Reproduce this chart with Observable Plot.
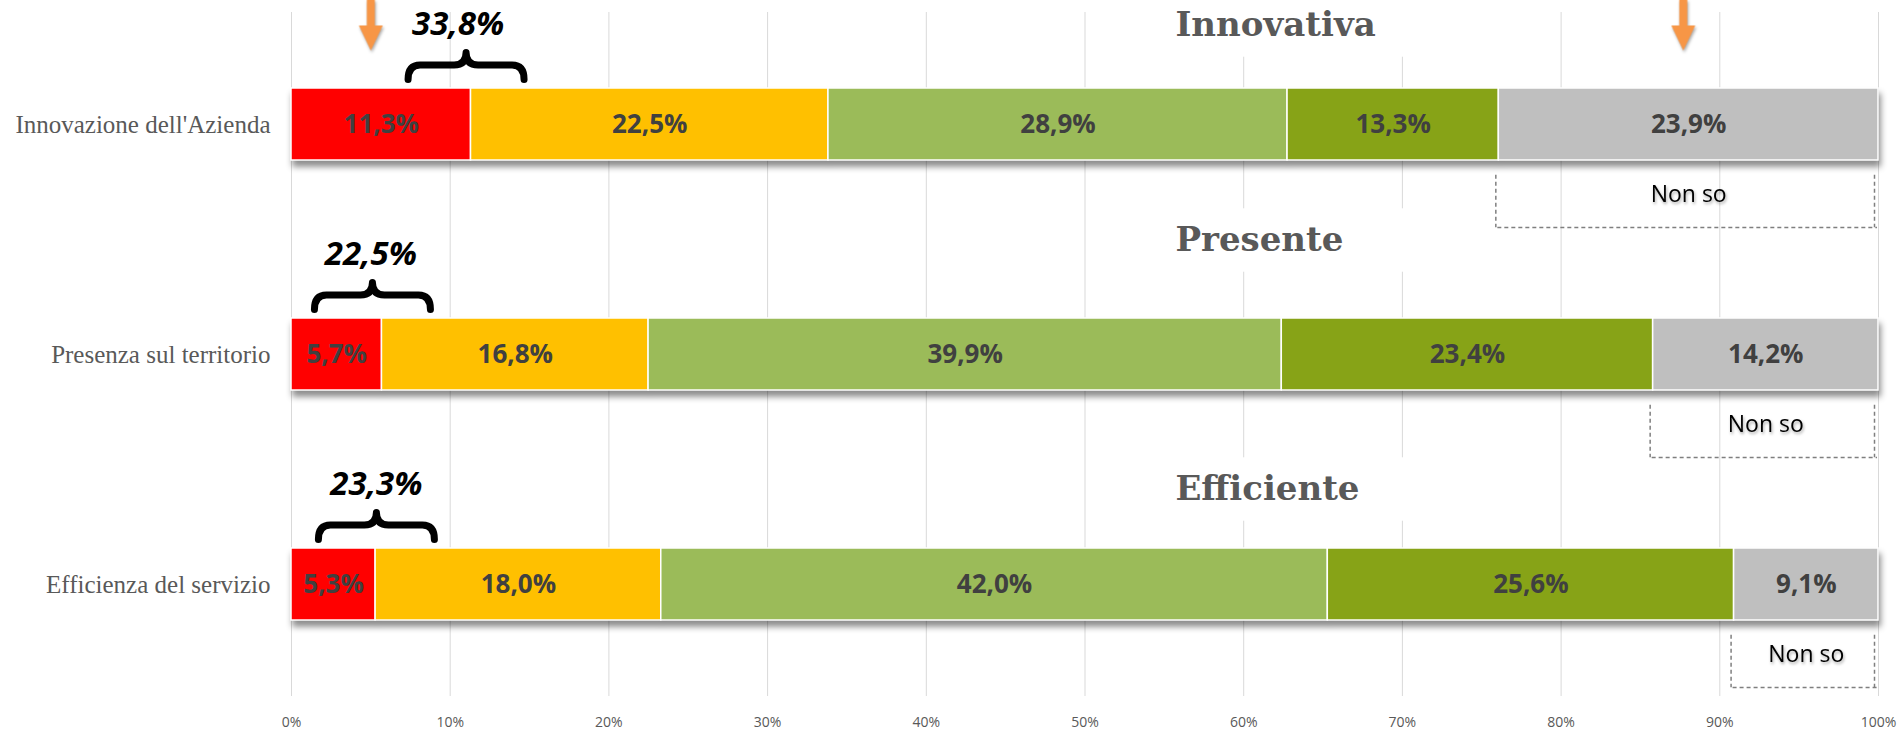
<!DOCTYPE html>
<html><head><meta charset="utf-8">
<script src="https://cdn.jsdelivr.net/npm/d3@7"></script>
<script src="https://cdn.jsdelivr.net/npm/@observablehq/plot@0.6"></script>
<style>
html,body{margin:0;padding:0;background:#fff;}
#chart svg{display:block}
</style>
</head><body><div id="chart"></div>
<script>
// ---------------- data ----------------
const items = ["Innovazione dell'Azienda", "Presenza sul territorio", "Efficienza del servizio"];
const responses = ["Per niente", "Poco", "Abbastanza", "Molto", "Non so"];
const perNiente  = [11.3, 5.7, 5.3];
const poco       = [22.5, 16.8, 18.0];
const abbastanza = [28.9, 39.9, 42.0];
const molto      = [13.3, 23.4, 25.6];
const nonSo      = [23.9, 14.2, 9.1];
const titles = ["Innovativa", "Presente", "Efficiente"];
const nonSoLabel = "Non so";
const xTicks = [0, 10, 20, 30, 40, 50, 60, 70, 80, 90, 100];
const colors = ["#FF0000", "#FFC000", "#9BBB59", "#87A317", "#BFBFBF"];

// annotation anchors, in percent of the x axis
const braceX = [11.0, 5.1, 5.35];
const noteX  = [10.5, 5.0, 5.35];
const arrowX = [5.0, 87.7];
const titleX = 55.7;

// ---------------- tables ----------------
const series = [perNiente, poco, abbastanza, molto, nonSo];
const totals = items.map((_, i) => d3.sum(series, s => s[i]));
const rows = [];
items.forEach((item, i) => {
  series.forEach((s, k) => rows.push({item, resp: responses[k], value: s[i], share: s[i] / totals[i] * 100}));
});
const fmt = v => v.toFixed(1).replace(".", ",") + "%";
const nsRows = items.map((item, i) => ({item, start: 100 - nonSo[i] / totals[i] * 100}));
const noteRows = items.map((item, i) => ({item, x: noteX[i], bx: braceX[i], text: fmt(perNiente[i] + poco[i])}));
const titleRows = items.map((item, i) => ({item, title: titles[i]}));

// ---------------- layout constants ----------------
const titleDy = [-99, -114, -95];

const braceSymbol = {draw(ctx, size) {
  const k = Math.sqrt(size / Math.PI) / 10;
  const W = 58 * k, H = 13.5 * k, r = 12 * k, a = -1 * k;
  ctx.moveTo(-W, H);
  ctx.quadraticCurveTo(-W, a, -W + r, a);
  ctx.lineTo(-r, a);
  ctx.quadraticCurveTo(0, a, 0, -H);
  ctx.moveTo(0, -H);
  ctx.quadraticCurveTo(0, a, r, a);
  ctx.lineTo(W - r, a);
  ctx.quadraticCurveTo(W, a, W, H);
}};
const arrowSymbol = {draw(ctx, size) {
  const k = Math.sqrt(size / Math.PI) / 10;
  ctx.moveTo(-4 * k, -26 * k);
  ctx.lineTo(4 * k, -26 * k);
  ctx.lineTo(4 * k, 0);
  ctx.lineTo(12 * k, 0);
  ctx.lineTo(0, 25 * k);
  ctx.lineTo(-12 * k, 0);
  ctx.lineTo(-4 * k, 0);
  ctx.closePath();
}};

const barShadow = "drop-shadow(2px 6px 3px rgba(0,0,0,0.45))";
const softShadow = "drop-shadow(1px 2px 1.5px rgba(0,0,0,0.35))";
const dash = {stroke: "#7F7F7F", strokeWidth: 1.5, strokeDasharray: "4,3"};

const chart = Plot.plot({
  width: 1901,
  height: 729,
  marginLeft: 291,
  marginRight: 23,
  marginTop: 12,
  marginBottom: 33,
  style: {fontFamily: "'Open Sans', sans-serif", background: "white", overflow: "visible"},
  x: {domain: [0, 100]},
  y: {domain: items, paddingInner: 0.689, paddingOuter: 0.331},
  color: {domain: responses, range: colors},
  marks: [
    Plot.gridX(xTicks, {stroke: "#D9D9D9", strokeOpacity: 1, strokeWidth: 1}),
    Plot.barX(rows, {x: "share", y: "item", fill: "resp", stroke: "white", strokeWidth: 1.5, imageFilter: barShadow, ariaDescription: "barshadow"}),
    ...items.map((item, i) => Plot.barX([titleRows[i]], {x1: 54, x2: 75, y: "item", fill: "white", dy: titleDy[i], insetTop: 4.3, insetBottom: 4.3})),
    ...items.map((item, i) => Plot.text([titleRows[i]], {x: titleX, y: "item", text: "title", textAnchor: "start", dy: titleDy[i], fontSize: 34, fontWeight: 700, fontFamily: "'DejaVu Serif', serif", fill: "#595959"})),
    Plot.text(rows, Plot.stackX({x: "share", y: "item", text: d => fmt(d.value), fill: "#404040", fontSize: 26, fontWeight: 700})),
    // "Non so" brackets
    Plot.tickX(nsRows, {x: "start", y: "item", dx: -3, dy: 77, insetTop: 9.8, insetBottom: 9.8, ...dash}),
    Plot.tickX(nsRows, {x: () => 100, y: "item", dx: -4, dy: 77, insetTop: 9.8, insetBottom: 9.8, ...dash}),
    Plot.ruleY(nsRows, {y: "item", x1: "start", x2: 100, dx: -1, dy: 103, ...dash}),
    Plot.text(nsRows, {x: d => (d.start + 100) / 2, y: "item", text: () => nonSoLabel, dy: 70, fontSize: 23, fill: "black", imageFilter: softShadow, ariaDescription: "soft"}),
    // braces + cumulative notes
    Plot.dot(noteRows, {x: "bx", y: "item", dy: -58.5, r: 10, symbol: braceSymbol, fill: "none", stroke: "black", strokeWidth: 7, strokeLinecap: "round", strokeLinejoin: "round"}),
    Plot.text(noteRows, {x: "x", y: "item", text: "text", dy: -100, fontSize: 33, fontWeight: 700, fontStyle: "italic", fill: "black"}),
    // orange arrows
    Plot.dotX(arrowX, {frameAnchor: "top", dy: 13, r: 10, symbol: arrowSymbol, fill: "#F79646", stroke: "none", imageFilter: softShadow, ariaDescription: "soft"}),
    // axes
    Plot.axisY({tickSize: 0, tickPadding: 21, fontSize: 25, fontFamily: "'Liberation Serif', serif", color: "#595959", label: null}),
    Plot.axisX({ticks: xTicks, tickFormat: d => d + "%", tickSize: 0, tickPadding: 21, fontSize: 14, color: "#595959", label: null})
  ]
});

// fallback for versions without imageFilter
chart.querySelectorAll('[aria-description="barshadow"]').forEach(g => g.style.filter = barShadow);
chart.querySelectorAll('[aria-description="soft"]').forEach(g => g.style.filter = softShadow);

document.getElementById("chart").appendChild(chart);
</script>
</body></html>
